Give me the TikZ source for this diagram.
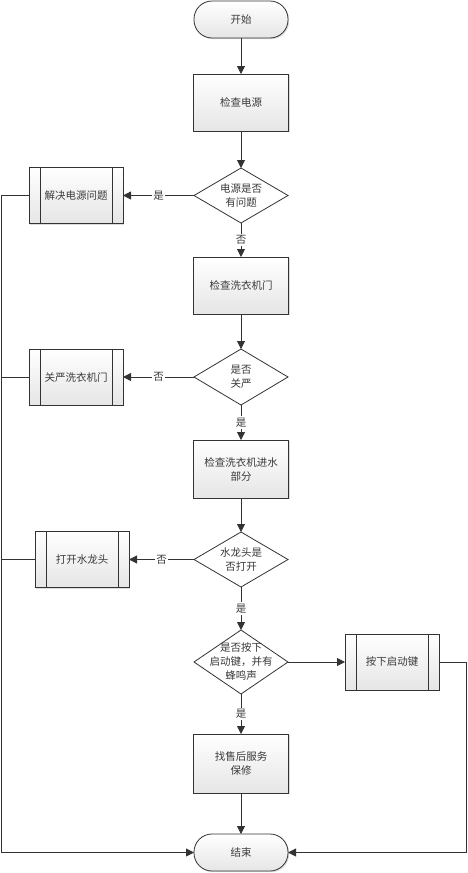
\documentclass[tikz,border=0pt]{standalone}
\usepackage{fontspec}
\newfontfamily\cjk{Noto Sans CJK SC}
\usepackage{tikz}
\usetikzlibrary{arrows.meta,calc,positioning,shapes.geometric,shadows}
\definecolor{linegray}{HTML}{333333}
\definecolor{textgray}{HTML}{3A3A3A}
\tikzset{
	flow chart/.style={
		x=1pt, y=1pt,
		color=linegray,
		line width=0.8pt,
		every node/.style={font=\cjk\fontsize{10.5}{14}\selectfont, text=textgray, align=center},
		ar/.style={-{Triangle[length=8pt,width=8pt]}},
		lbl/.style={fill=white, inner sep=1.5pt}
		},
	box shade/.style={draw=linegray, top color=white, bottom color=black!10, outer sep=0pt,
		drop shadow={shadow xshift=1.2pt, shadow yshift=-1.2pt, fill=black!30, opacity=.45}},
	terminal/.style={box shade, rectangle, rounded corners=18pt, minimum width=94pt, minimum height=37pt},
	process/.style={box shade, rectangle, minimum width=95pt, minimum height=57pt},
	subprocess/.style={process, minimum width=94pt, minimum height=56pt,
		path picture={\draw[linegray]
			([xshift=11pt]path picture bounding box.north west) -- ([xshift=11pt]path picture bounding box.south west)
			([xshift=-11pt]path picture bounding box.north east) -- ([xshift=-11pt]path picture bounding box.south east);}},
	decision/.style={draw=linegray, fill=white, diamond, aspect=1.7, inner sep=-4pt, outer sep=0pt,
		minimum width=94pt, minimum height=55pt}
}

\begin{document}
\begin{tikzpicture}[flow chart]
  \useasboundingbox (0,0) rectangle (467,-873);
  \node[terminal] (start) at (241,-19.5) {开始};
  \node[process, below=36pt of start] (power) {检查电源};
  \node[decision, below=37pt of power] (askpower) {电源是否\\有问题};
  \node[subprocess, left=71pt of askpower] (fixpower) {解决电源问题};
  \node[process, below=34pt of askpower] (door) {检查洗衣机门};
  \node[decision, below=35pt of door, minimum height=56pt] (askdoor) {是否\\关严};
  \node[subprocess, left=71pt of askdoor] (closedoor) {关严洗衣机门};
  \node[process, below=35pt of askdoor, minimum height=58pt] (water) {检查洗衣机进水\\部分};
  \node[decision, below=34pt of water] (asktap) {水龙头是\\否打开};
  \node[subprocess, left=65pt of asktap] (opentap) {打开水龙头};
  \node[decision, below=43pt of asktap, aspect=1.47, minimum height=64pt, inner sep=-12pt] (askstart) {是否按下\\启动键，并有\\蜂鸣声};
  \node[subprocess, right=57pt of askstart] (pressstart) {按下启动键};
  \node[process, below=40pt of askstart, minimum height=59pt] (service) {找售后服务\\保修};
  \node[terminal, below=41pt of service] (end) {结束};

  \coordinate (railL) at (1,0);
  \coordinate (railR) at (466,0);

  \draw[ar] (start) -- (power);
  \draw[ar] (power) -- (askpower);
  \draw[ar] (askpower) -- node[lbl] {是} (fixpower);
  \draw[ar] (askpower) -- node[lbl] {否} (door);
  \draw[ar] (door) -- (askdoor);
  \draw[ar] (askdoor) -- node[lbl] {否} (closedoor);
  \draw[ar] (askdoor) -- node[lbl] {是} (water);
  \draw[ar] (water) -- (asktap);
  \draw[ar] (asktap) -- node[lbl] {否} (opentap);
  \draw[ar] (asktap) -- node[lbl] {是} (askstart);
  \draw[ar] (askstart) -- (pressstart);
  \draw[ar] (askstart) -- node[lbl] {是} (service);
  \draw[ar] (service) -- (end);
  % back to the end
  \draw[ar] (fixpower.west) -| (railL |- end.west) -- (end.west);
  \draw (closedoor.west) -- (closedoor.west -| railL);
  \draw (opentap.west) -- (opentap.west -| railL);
  \draw[ar] (pressstart.east) -| (railR |- end.east) -- (end.east);
\end{tikzpicture}
\end{document}
